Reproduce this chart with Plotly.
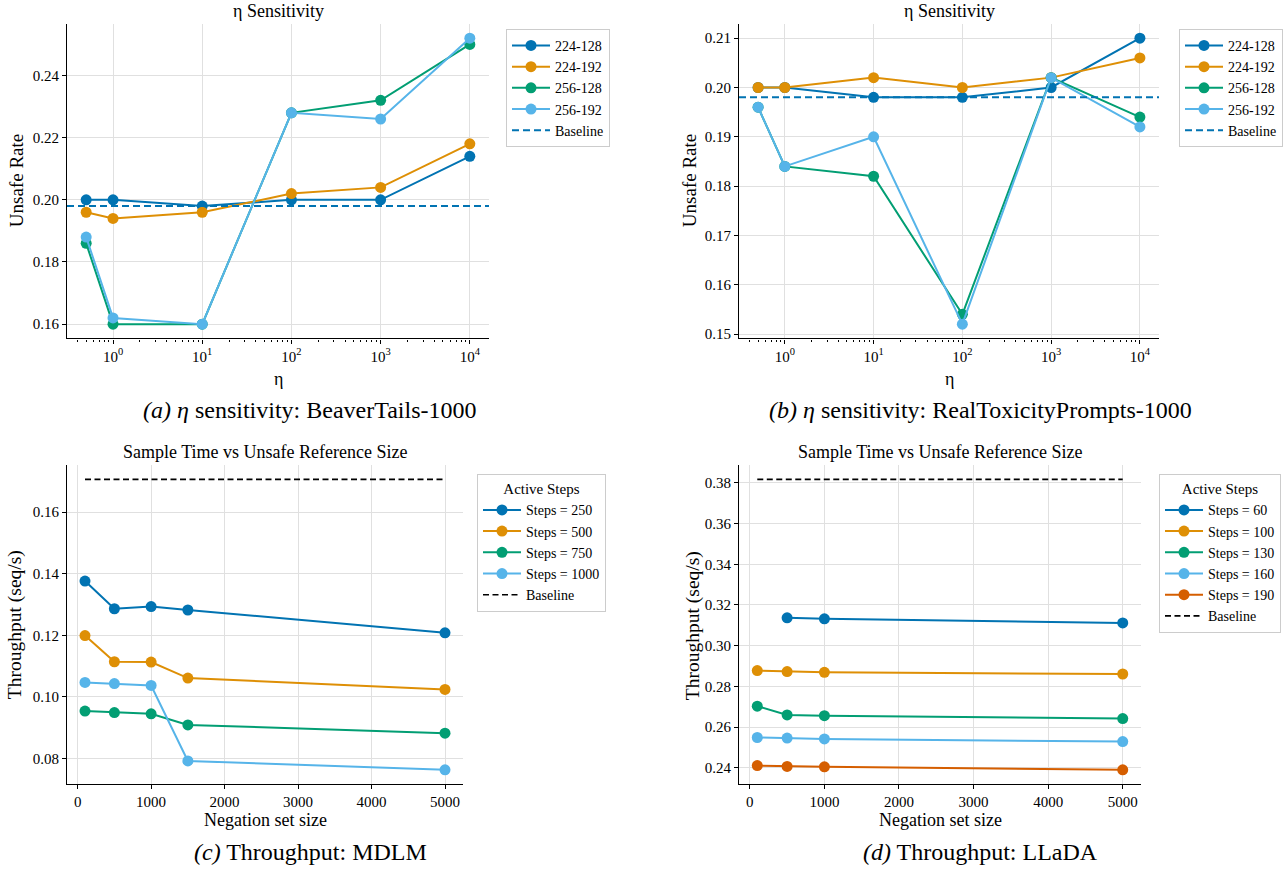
import numpy as np
import plotly.graph_objects as go

# ---------------- data ----------------
eta = [0.5, 1, 10, 100, 1000, 10000]
series_names_ab = ["224-128", "224-192", "256-128", "256-192"]

bt_224_128 = [0.200, 0.200, 0.198, 0.200, 0.200, 0.214]
bt_224_192 = [0.196, 0.194, 0.196, 0.202, 0.204, 0.218]
bt_256_128 = [0.186, 0.160, 0.160, 0.228, 0.232, 0.250]
bt_256_192 = [0.188, 0.162, 0.160, 0.228, 0.226, 0.252]
bt_baseline = 0.198

rt_224_128 = [0.200, 0.200, 0.198, 0.198, 0.200, 0.210]
rt_224_192 = [0.200, 0.200, 0.202, 0.200, 0.202, 0.206]
rt_256_128 = [0.196, 0.184, 0.182, 0.154, 0.202, 0.194]
rt_256_192 = [0.196, 0.184, 0.190, 0.152, 0.202, 0.192]
rt_baseline = 0.198

neg_sizes = [100, 500, 1000, 1500, 5000]
mdlm_names = ["Steps = 250", "Steps = 500", "Steps = 750", "Steps = 1000"]
mdlm_250 = [0.1376, 0.1286, 0.1293, 0.1282, 0.1208]
mdlm_500 = [0.1199, 0.1114, 0.1113, 0.1061, 0.1024]
mdlm_750 = [0.0954, 0.0949, 0.0945, 0.0909, 0.0882]
mdlm_1000 = [0.1047, 0.1043, 0.1037, 0.0792, 0.0763]
mdlm_baseline = 0.1706

llada_sizes = [100, 500, 1000, 5000]
llada_names = ["Steps = 60", "Steps = 100", "Steps = 130", "Steps = 160", "Steps = 190"]
llada_60 = [None, 0.3137, 0.3132, 0.3112]
llada_100 = [0.2878, 0.2873, 0.2869, 0.2861]
llada_130 = [0.2703, 0.2660, 0.2656, 0.2642]
llada_160 = [0.2549, 0.2546, 0.2542, 0.2529]
llada_190 = [0.2411, 0.2407, 0.2405, 0.2390]
llada_baseline = 0.3817

captions = ["<i>(a) η</i> sensitivity: BeaverTails-1000",
            "<i>(b) η</i> sensitivity: RealToxicityPrompts-1000",
            "<i>(c)</i> Throughput: MDLM",
            "<i>(d)</i> Throughput: LLaDA"]

colors = ["#0173B2", "#DE8F05", "#029E73", "#56B4E9", "#D55E00"]

# ---------------- layout helpers ----------------
W, H = 1288, 874
FONT = "Liberation Serif"

def px_x(p):
    return p / W

def px_y(p):
    return 1 - p / H

def pad_range(vals, log=False):
    v = np.array([x for x in vals if x is not None], dtype=float)
    if log:
        v = np.log10(v)
    lo, hi = v.min(), v.max()
    m = 0.05 * (hi - lo)
    return [lo - m, hi + m]

boxes = {  # pixel boxes: x0, x1, y0(top), y1(bottom)
    "a": (67, 489, 24, 340),
    "b": (739, 1159, 24, 340),
    "c": (67, 463, 467, 788),
    "d": (739, 1141, 467, 788),
}

fig = go.Figure()

def add_series(xs, ys, name, color, xa, ya, legend):
    fig.add_trace(go.Scatter(
        x=xs, y=ys, name=name, mode="lines+markers",
        line=dict(color=color, width=2),
        marker=dict(color=color, size=11),
        xaxis=xa, yaxis=ya, legend=legend, connectgaps=False,
    ))

# panel a
for nm, ys, c in zip(series_names_ab, [bt_224_128, bt_224_192, bt_256_128, bt_256_192], colors):
    add_series(eta, ys, nm, c, "x", "y", "legend")
# panel b
for nm, ys, c in zip(series_names_ab, [rt_224_128, rt_224_192, rt_256_128, rt_256_192], colors):
    add_series(eta, ys, nm, c, "x2", "y2", "legend2")

# baselines a, b as full-width horizontal lines
for yref, xref, base, leg in [("y", "x domain", bt_baseline, "legend"), ("y2", "x2 domain", rt_baseline, "legend2")]:
    fig.add_shape(type="line", xref=xref, yref=yref, x0=0, x1=1, y0=base, y1=base,
                  line=dict(color=colors[0], width=2, dash="7px,4px"),
                  showlegend=True, name="Baseline", legend=leg, layer="above")

# panel c
for nm, ys, c in zip(mdlm_names, [mdlm_250, mdlm_500, mdlm_750, mdlm_1000], colors):
    add_series(neg_sizes, ys, nm, c, "x3", "y3", "legend3")
fig.add_trace(go.Scatter(x=[neg_sizes[0], neg_sizes[-1]], y=[mdlm_baseline] * 2, name="Baseline",
                         mode="lines", line=dict(color="black", width=1.6, dash="6px,3.5px"),
                         xaxis="x3", yaxis="y3", legend="legend3"))

# panel d
for nm, ys, c in zip(llada_names, [llada_60, llada_100, llada_130, llada_160, llada_190], colors):
    add_series(llada_sizes, ys, nm, c, "x4", "y4", "legend4")
fig.add_trace(go.Scatter(x=[llada_sizes[0], llada_sizes[-1]], y=[llada_baseline] * 2, name="Baseline",
                         mode="lines", line=dict(color="black", width=1.6, dash="6px,3.5px"),
                         xaxis="x4", yaxis="y4", legend="legend4"))

# ---------------- axes ----------------
grid = "#e0e0e0"
common = dict(showline=True, linecolor="black", linewidth=1.2, ticks="outside", ticklen=4,
              tickwidth=1, tickcolor="black", showgrid=True, gridcolor=grid, gridwidth=1,
              zeroline=False, tickfont=dict(family=FONT, size=15, color="black"), mirror=False)

log_ticks = [1, 10, 100, 1000, 10000]
log_text = ["10<sup>%d</sup>" % i for i in range(5)]
minor_vals = [m * 10 ** k for k in range(-1, 5) for m in range(2, 10)]

all_a = bt_224_128 + bt_224_192 + bt_256_128 + bt_256_192 + [bt_baseline]
all_b = rt_224_128 + rt_224_192 + rt_256_128 + rt_256_192 + [rt_baseline]
all_c = mdlm_250 + mdlm_500 + mdlm_750 + mdlm_1000 + [mdlm_baseline]
all_d = llada_60 + llada_100 + llada_130 + llada_160 + llada_190 + [llada_baseline]

axes = {}
for key, xn, yn in [("a", "xaxis", "yaxis"), ("b", "xaxis2", "yaxis2"),
                    ("c", "xaxis3", "yaxis3"), ("d", "xaxis4", "yaxis4")]:
    x0, x1, y0, y1 = boxes[key]
    axes[xn] = dict(common, domain=[px_x(x0), px_x(x1)])
    axes[yn] = dict(common, domain=[px_y(y1), px_y(y0)])

suffix = {"a": "", "b": "2", "c": "3", "d": "4"}
for key, ally in [("a", all_a), ("b", all_b)]:
    s = suffix[key]
    axes["xaxis" + s].update(type="log", range=pad_range(eta, log=True), tickmode="array",
                             tickvals=log_ticks, ticktext=log_text, anchor="y" + s,
                             minor=dict(tickmode="array", tickvals=minor_vals, ticks="outside",
                                        ticklen=2.5, tickcolor="black", showgrid=False))
    axes["yaxis" + s].update(range=pad_range(ally), tickformat=".2f", anchor="x" + s,
                             dtick=0.02 if key == "a" else 0.01, tick0=0)
for key, ally, xs in [("c", all_c, neg_sizes), ("d", all_d, llada_sizes)]:
    s = suffix[key]
    axes["xaxis" + s].update(range=pad_range(xs), dtick=1000, tick0=0, anchor="y" + s)
    axes["yaxis" + s].update(range=pad_range(ally), tickformat=".2f", dtick=0.02, tick0=0,
                             anchor="x" + s)

fig.update_layout(**axes)

# ---------------- legends ----------------
def legend_at(xpx, ypx, title=None):
    d = dict(x=px_x(xpx), y=px_y(ypx), xanchor="left", yanchor="top", xref="paper", yref="paper",
             bgcolor="rgba(255,255,255,0.8)", bordercolor="#cccccc", borderwidth=1,
             font=dict(family=FONT, size=14, color="black"), itemwidth=38, tracegroupgap=0)
    if title:
        d["title"] = dict(text=title, side="top center", font=dict(family=FONT, size=15, color="black"))
    return d

fig.update_layout(
    legend=legend_at(506, 29),
    legend2=legend_at(1179, 29),
    legend3=legend_at(477, 476, "Active Steps"),
    legend4=legend_at(1159, 476, "Active Steps"),
)

# ---------------- text ----------------
ann = []
def text(xpx, ypx, t, size, angle=0):
    ann.append(dict(x=px_x(xpx), y=px_y(ypx), xref="paper", yref="paper", text=t, showarrow=False,
                    xanchor="center", yanchor="middle", textangle=angle,
                    font=dict(family=FONT, size=size, color="black")))

text(278, 11, "η Sensitivity", 18)
text(949, 11, "η Sensitivity", 18)
text(265, 454, "Sample Time vs Unsafe Reference Size", 18)
text(940, 454, "Sample Time vs Unsafe Reference Size", 18)

text(16, 182, "Unsafe Rate", 19, -90)
text(689, 182, "Unsafe Rate", 19, -90)
text(15, 628, "Throughput (seq/s)", 19.5, -90)
text(693, 628, "Throughput (seq/s)", 19.5, -90)

text(278, 381, "η", 18)
text(949, 381, "η", 18)
text(265, 824, "Negation set size", 18)
text(940, 824, "Negation set size", 18)

text(310, 412, captions[0], 24)
text(980, 412, captions[1], 24)
text(310, 856, captions[2], 24)
text(980, 856, captions[3], 24)

fig.update_layout(annotations=ann, width=W, height=H, autosize=False,
                  margin=dict(l=0, r=0, t=0, b=0), plot_bgcolor="white", paper_bgcolor="white",
                  font=dict(family=FONT, color="black"))

fig.write_html("out.html", config={"displayModeBar": False},
               post_script="document.body.style.margin='0';document.body.style.overflow='hidden';")
